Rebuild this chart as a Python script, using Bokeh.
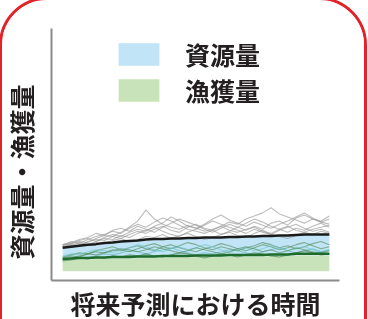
from bokeh.plotting import figure
from bokeh.models import Range1d, Legend, LegendItem, Title, FixedTicker
from bokeh.embed import file_html
from bokeh.resources import INLINE

# ---- data (value = relative amount, time steps 0..32) ----
t = list(range(33))
biomass_mean = [32, 33, 34, 35, 35.5, 36.5, 37, 38, 38.5, 39, 40, 40.5, 40.5, 41, 41, 41.5, 41.5,
                42, 42, 42, 42.5, 42.5, 43, 43, 43.5, 43.5, 44, 44, 44.5, 45, 45, 45, 45]
catch_mean = [21, 21.5, 22, 22, 22.5, 22.5, 23, 23, 23, 23.5, 23.5, 23.5, 24, 24, 24, 24, 24.5,
              24.5, 24.5, 24.5, 25, 25, 25, 25, 25, 25.5, 25.5, 25.5, 26, 26, 26, 26, 26]
catch_band_low = [9] * 33
catch_band_high = [19.5, 20, 20.5, 20.5, 21, 21, 21.5, 21.5, 21.5, 22, 22, 22, 22.5, 22.5, 22.5, 22.5, 23,
                   23, 23, 23, 23.5, 23.5, 23.5, 23.5, 23.5, 24, 24, 24, 24.5, 24.5, 24.5, 24.5, 24.5]

biomass_sims = [
    [34, 36, 38, 37, 41, 44, 43, 47, 52, 58, 69, 60, 55, 52, 50, 54, 51, 48, 50, 53, 49, 47, 50, 52, 48, 46, 50, 53, 49, 47, 50, 52, 54],
    [33, 35, 34, 38, 40, 39, 43, 41, 45, 48, 46, 50, 53, 49, 47, 52, 55, 51, 49, 53, 57, 55, 60, 63, 66, 71, 65, 62, 59, 56, 60, 57, 55],
    [35, 37, 40, 42, 46, 44, 49, 51, 48, 53, 50, 47, 52, 56, 60, 57, 54, 50, 47, 51, 55, 52, 49, 53, 50, 56, 58, 54, 61, 64, 60, 58, 63],
    [33, 34, 37, 35, 38, 41, 40, 44, 42, 46, 49, 52, 48, 45, 43, 47, 50, 54, 58, 55, 52, 49, 46, 50, 47, 45, 49, 52, 55, 51, 48, 50, 47],
    [34, 38, 36, 40, 43, 45, 48, 46, 51, 55, 52, 57, 61, 58, 54, 50, 48, 46, 49, 45, 48, 52, 56, 60, 57, 53, 50, 47, 51, 49, 53, 56, 52],
    [32, 33, 35, 34, 37, 36, 39, 41, 38, 40, 43, 42, 45, 41, 44, 46, 43, 40, 42, 45, 47, 44, 42, 46, 49, 45, 43, 41, 44, 47, 45, 48, 46],
    [35, 36, 39, 41, 38, 42, 45, 43, 47, 50, 48, 53, 56, 62, 58, 53, 51, 55, 60, 64, 59, 56, 53, 57, 54, 51, 55, 58, 62, 66, 61, 57, 60],
]
catch_sims = [
    [22, 24, 23, 26, 28, 27, 30, 29, 32, 34, 31, 29, 33, 35, 32, 30, 28, 31, 33, 36, 34, 31, 29, 32, 35, 33, 30, 32, 35, 37, 34, 31, 33],
    [20, 21, 23, 22, 24, 26, 25, 27, 29, 28, 26, 28, 30, 32, 29, 27, 25, 27, 26, 28, 30, 29, 27, 25, 28, 30, 32, 29, 27, 29, 31, 28, 30],
    [23, 25, 27, 26, 29, 31, 33, 30, 28, 31, 34, 36, 33, 31, 34, 37, 35, 32, 30, 33, 31, 29, 32, 34, 37, 35, 32, 34, 31, 33, 36, 38, 35],
    [19, 20, 22, 21, 23, 22, 24, 23, 25, 24, 26, 24, 23, 25, 27, 26, 24, 22, 24, 26, 25, 23, 25, 27, 26, 24, 23, 25, 27, 29, 27, 25, 26],
    [24, 26, 25, 28, 30, 29, 27, 30, 32, 35, 33, 30, 28, 31, 33, 30, 32, 35, 33, 30, 27, 30, 32, 29, 31, 34, 32, 29, 31, 33, 30, 28, 30],
    [21, 22, 24, 26, 25, 27, 29, 31, 30, 28, 30, 33, 31, 29, 27, 29, 32, 30, 28, 26, 28, 31, 33, 31, 28, 30, 27, 29, 32, 30, 28, 27, 29],
]
catch_sim_colors = ["#4f8a55", "#5fb8bd", "#4f8a55", "#3f7a45", "#6cc6c9", "#4f8a55"]

legend_labels = ["資源量", "漁獲量"]
x_label = "将来予測における時間"
y_label = "資源量・漁獲量"

FONT = "Noto Sans CJK JP"

p = figure(width=368, height=380, output_backend="svg", toolbar_location=None,
           x_range=Range1d(-1.34, 33.22), y_range=Range1d(0, 246),
           min_border_left=48, min_border_right=31, min_border_top=28, min_border_bottom=100)
p.styles = {"position": "fixed", "left": "-1px", "top": "-3px", "box-sizing": "border-box",
            "border": "3px solid #e3232b", "border-radius": "48px", "overflow": "hidden"}
p.grid.visible = False
p.outline_line_color = None
p.background_fill_color = "white"
p.border_fill_color = "white"
for ax in (p.xaxis, p.yaxis):
    ax.ticker = FixedTicker(ticks=[])
    ax.major_tick_line_color = None
    ax.minor_tick_line_color = None
    ax.major_label_text_font_size = "0px"
    ax.axis_line_color = "#8a8a8a"
    ax.axis_line_width = 2
p.yaxis.major_tick_out = 0
p.yaxis.minor_tick_out = 0
p.yaxis.major_label_standoff = 0
# thin spacer between the axis line and the outer title
p.yaxis.axis_label = " "
p.yaxis.axis_label_text_font_size = "1px"
p.yaxis.axis_label_standoff = 7

p.xaxis.axis_label = x_label
p.xaxis.axis_label_text_font = FONT
p.xaxis.axis_label_text_font_size = "25px"
p.xaxis.axis_label_text_font_style = "bold"
p.xaxis.axis_label_text_color = "#231f20"
p.xaxis.axis_label_standoff = 4

blue = p.varea(x=t, y1=catch_band_high, y2=biomass_mean, fill_color="#c1e4f6", fill_alpha=1)
green = p.varea(x=t, y1=catch_band_low, y2=catch_band_high, fill_color="#c8e3b9", fill_alpha=1)

for s in biomass_sims:
    p.line(t, s, line_color="#999999", line_alpha=0.65, line_width=1.1)
for s, c in zip(catch_sims, catch_sim_colors):
    p.line(t, s, line_color=c, line_alpha=0.6, line_width=1.1)

p.line(t, catch_mean, line_color="#1f6b2a", line_width=2.5)
p.line(t, biomass_mean, line_color="#1a1a1a", line_width=2.5)

legend = Legend(items=[LegendItem(label=legend_labels[0], renderers=[blue]),
                       LegendItem(label=legend_labels[1], renderers=[green])],
                location=(62, 172), glyph_width=51, glyph_height=28, label_height=28,
                spacing=0, padding=0, margin=0, label_standoff=21,
                border_line_color=None, background_fill_alpha=0,
                label_text_font=FONT, label_text_font_size="25px",
                label_text_font_style="bold", label_text_color="#231f20")
p.add_layout(legend)

p.add_layout(Title(text=y_label, align="left", vertical_align="top", offset=21, standoff=0,
                   text_font=FONT, text_font_size="25px", text_font_style="bold",
                   text_color="#231f20"), "left")

open("out.html", "w").write(file_html(p, INLINE))
